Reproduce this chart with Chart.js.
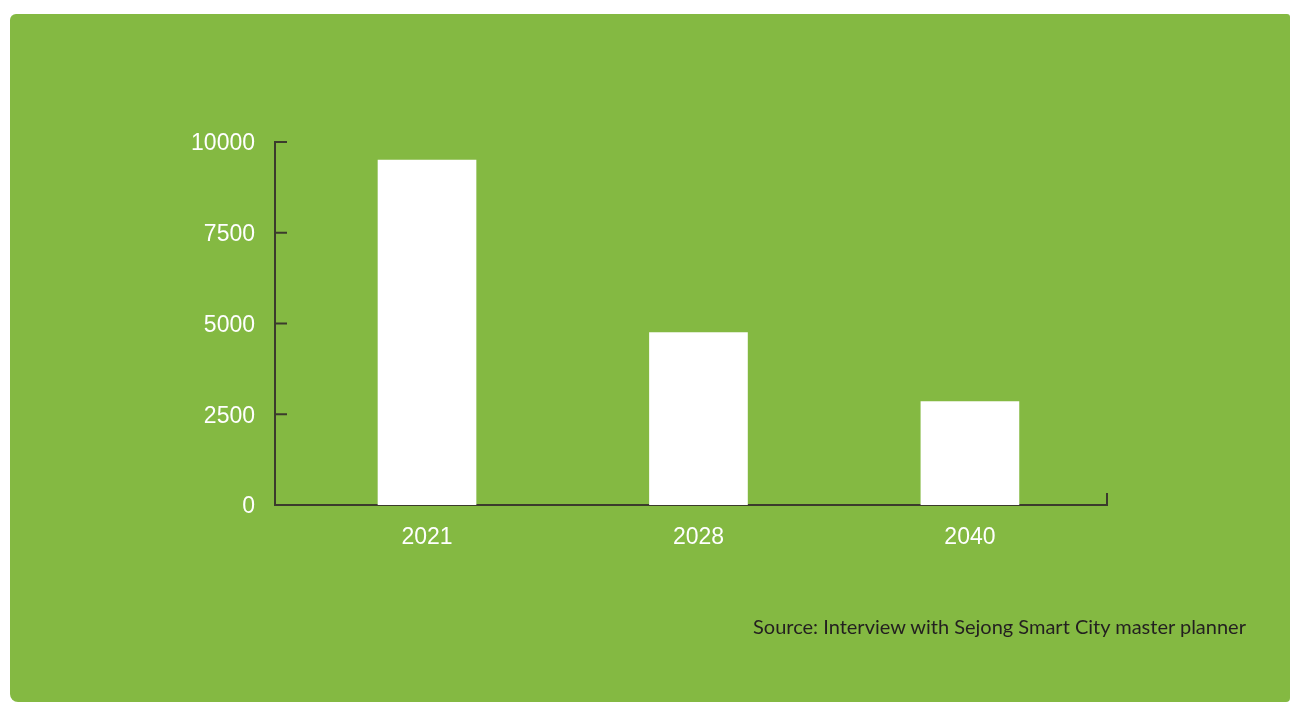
<!DOCTYPE html>
<html>
<head>
<meta charset="utf-8">
<script src="https://cdn.jsdelivr.net/npm/chart.js@4"></script>
<style>
  html, body { margin: 0; padding: 0; background: #fff; }
  #wrap { position: relative; width: 1292px; height: 706px; overflow: hidden; }
  #paper {
    position: absolute; left: 10px; top: 14px; width: 1280px; height: 688px;
    background: #84b942; border-radius: 6px 3px 4px 8px;
  }
  #myChart { position: absolute; left: 0; top: 0; }
  #source {
    position: absolute; left: 753px; top: 614px;
    font-family: Lato, "Open Sans", sans-serif; font-size: 20px; color: #231f20;
    white-space: nowrap;
  }
</style>
</head>
<body>
<div id="wrap">
  <div id="paper"></div>
  <canvas id="myChart" width="1292" height="706"></canvas>
  <div id="source">Source: Interview with Sejong Smart City master planner</div>
</div>
<script>
const years = ["2021", "2028", "2040"];
const values = [9500, 4750, 2850];
const yTicks = [0, 2500, 5000, 7500, 10000];

const axisColor = "#3b3b2c";

// inward tick marks on the y axis, end tick on the x axis
const innerTicks = {
  id: "innerTicks",
  afterDraw(chart) {
    const ctx = chart.ctx;
    const y = chart.scales.y;
    const x = chart.scales.x;
    ctx.save();
    ctx.strokeStyle = axisColor;
    ctx.lineWidth = 2;
    ctx.beginPath();
    yTicks.forEach((v) => {
      const py = y.getPixelForValue(v);
      ctx.moveTo(y.right, py);
      ctx.lineTo(y.right + 12, py);
    });
    ctx.moveTo(x.right, x.top);
    ctx.lineTo(x.right, x.top - 12);
    ctx.stroke();
    ctx.restore();
  },
};

const ctx = document.getElementById("myChart").getContext("2d");
const myChart = new Chart(ctx, {
  type: "bar",
  data: {
    datasets: [
      {
        data: years.map((yr, i) => ({ x: i, y: values[i] })),
        backgroundColor: "#ffffff",
        borderWidth: 0,
        barThickness: 98,
      },
    ],
  },
  options: {
    responsive: false,
    animation: false,
    layout: { padding: { left: 165, right: 185, top: 142, bottom: 151 } },
    plugins: { legend: { display: false }, tooltip: { enabled: false } },
    scales: {
      x: {
        type: "linear",
        offset: false,
        min: -0.56,
        max: 2.505,
        afterFit(scale) { scale.height = 50; },
        grid: { display: false, offset: false },
        border: { display: true, color: axisColor, width: 2 },
        ticks: {
          stepSize: 1,
          includeBounds: false,
          padding: 11,
          color: "#ffffff",
          font: { family: "Liberation Sans, Arial, sans-serif", size: 23 },
          callback: (v) => years[v] ?? "",
          maxRotation: 0,
        },
      },
      y: {
        min: 0,
        max: 10000,
        afterFit(scale) { scale.width = 110; },
        grid: { display: false },
        border: { display: true, color: axisColor, width: 2 },
        ticks: {
          stepSize: 2500,
          padding: 12,
          labelOffset: 2,
          color: "#ffffff",
          font: { family: "Liberation Sans, Arial, sans-serif", size: 23 },
          callback: (v) => String(v),
        },
      },
    },
  },
  plugins: [innerTicks],
});
</script>
</body>
</html>
